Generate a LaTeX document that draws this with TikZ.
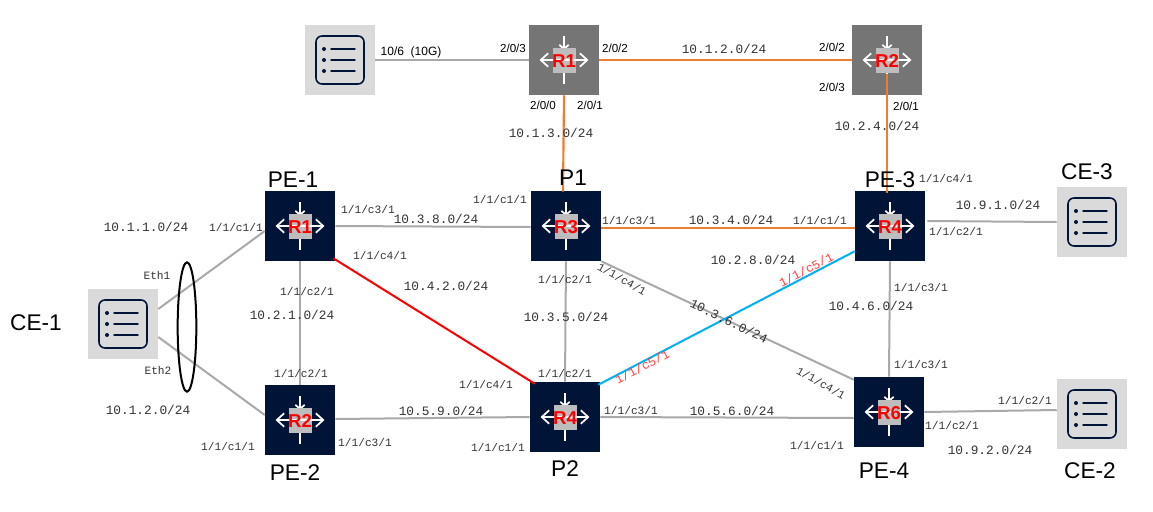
\documentclass[tikz,border=0pt]{standalone}
\usepackage{fontspec}
\setmainfont{Liberation Sans}
\newfontfamily\monof{Liberation Mono}
\usetikzlibrary{calc,arrows.meta,shapes.geometric}
\definecolor{navy}{HTML}{001437}
\definecolor{grayrt}{HTML}{757575}
\definecolor{tilegray}{HTML}{DADADA}
\definecolor{linkgray}{HTML}{A9A9A9}
\definecolor{linkorange}{HTML}{ED7D31}
\definecolor{linkblue}{HTML}{00B0F0}
\definecolor{innergray}{HTML}{BDBDBD}
\definecolor{labgray}{HTML}{333333}
\tikzset{
  x=0.75pt,y=-0.75pt,
  rtbox/.style={minimum size=52.5pt,inner sep=0pt,draw=none},
  srvbox/.style={minimum size=52.5pt,inner sep=0pt,draw=none,fill=tilegray},
  graylink/.style={draw=linkgray,line width=1.5pt},
  orangelink/.style={draw=linkorange,line width=1.6pt},
  redlink/.style={draw=red,line width=1.5pt},
  bluelink/.style={draw=linkblue,line width=1.5pt},
  monolab/.style={inner sep=0pt,font=\monof\fontsize{9.6}{10}\selectfont,text=labgray},
  portlab/.style={inner sep=0pt,font=\monof\fontsize{8.4}{9}\selectfont,text=labgray},
  redport/.style={inner sep=0pt,font=\monof\fontsize{9.3}{10}\selectfont,text=red!75},
  sanslab/.style={inner sep=0pt,font=\fontsize{8.7}{9}\selectfont,text=black},
  biglab/.style={inner sep=0pt,font=\fontsize{17}{18}\selectfont,text=black},
  rlab/.style={inner sep=0pt,font=\bfseries\fontsize{14}{15}\selectfont,text=red},
  iconline/.style={draw=white,line width=1.3pt},
  listline/.style={draw=navy,line width=1.1pt,line cap=round},
}
\newcounter{lblc}
\newcommand{\lbl}[4][]{\stepcounter{lblc}\node[#2,#1] (t\arabic{lblc}) at (#3) {#4};}
\newcommand{\router}[4]{%
  \node[rtbox,fill=#3] (#1) at (#2) {};
  \draw[iconline,-{Straight Barb[length=3pt,width=7pt]}] ($(#1.center)+(0,-24)$) -- ($(#1.center)+(0,-10)$);
  \draw[iconline] ($(#1.center)+(0,24)$) -- ($(#1.center)+(0,10)$);
  \fill[innergray] ($(#1.center)+(-11.5,-12)$) rectangle ($(#1.center)+(11.5,13)$);
  \draw[iconline,{Straight Barb[length=5.5pt,width=10pt]}-{Straight Barb[length=5.5pt,width=10pt]}] ($(#1.center)+(-24.5,0)$) -- ($(#1.center)+(24.5,0)$);
  \node[rlab] (#1txt) at ($(#1.center)+(0,1)$) {#4};
}
\newcommand{\server}[2]{%
  \node[srvbox] (#1) at (#2) {};
  \draw[navy,line width=1.2pt,rounded corners=4.5pt] ($(#1.center)+(-24,-24)$) rectangle ($(#1.center)+(24,24)$);
  \foreach \yy in {-11,0,11}{
    \fill[navy] ($(#1.center)+(-16,\yy)$) circle (1.5pt);
    \draw[listline] ($(#1.center)+(-9,\yy)$) -- ($(#1.center)+(15,\yy)$);
  }
}
\begin{document}
\begin{tikzpicture}
\fill[white] (0,0) rectangle (1153,511);
\useasboundingbox (0,0) rectangle (1153,511);
% devices
\server{srvtop}{340,60}
\server{ceone}{123,324}
\server{cethree}{1092,222}
\server{cetwo}{1092,414}
\router{topa}{564,60}{grayrt}{R1}
\router{topb}{887,60}{grayrt}{R2}
\router{peone}{300,226}{navy}{R1}
\router{pone}{566,226}{navy}{R3}
\router{pethree}{890,226}{navy}{R4}
\router{petwo}{300,420}{navy}{R2}
\router{ptwo}{565,417}{navy}{R4}
\router{pefour}{889,412}{navy}{R6}
% connectors
\draw[graylink] (srvtop.east) -- (topa.west);
\draw[orangelink] (topa.east) -- (topb.west);
\draw[orangelink] (topa.south) -- ($(pone.north)+(-3,1)$);
\draw[orangelink] ($(topb.center)+(0,14)$) -- ($(pethree.north)+(-3,2)$);
\draw[graylink] (peone.east) -- ($(pone.west)+(0,1)$);
\draw[orangelink] ($(pone.east)+(0,2)$) -- ($(pethree.west)+(0,2)$);
\draw[graylink] ($(pethree.east)+(2,-5)$) -- (cethree.west);
\draw[graylink] ($(ceone.east)+(0,-15)$) -- ($(peone.west)+(0,5)$);
\draw[graylink] ($(ceone.east)+(0,13)$) -- ($(petwo.west)+(0,-5)$);
\draw[graylink] (peone.south) -- (petwo.north);
\draw[redlink] ($(peone.south east)+(-2,-3)$) -- ($(ptwo.north west)+(5,2)$);
\draw[graylink] (pone.south) -- (ptwo.north);
\draw[graylink] (pone.south east) -- ($(pefour.north west)+(0,3)$);
\draw[bluelink] ($(ptwo.north east)+(-2,3)$) -- ($(pethree.south west)+(0,-10)$);
\draw[graylink] ($(petwo.east)+(0,-1)$) -- (ptwo.west);
\draw[graylink] (ptwo.east) -- ($(pefour.west)+(0,6)$);
\draw[graylink] (pethree.south) -- (pefour.north);
\draw[graylink] (pefour.east) -- ($(cetwo.west)+(0,-4)$);
\node[draw=black,line width=1.5pt,ellipse,minimum width=14pt,minimum height=97pt,inner sep=0pt] (lag) at (187,327) {};
% big labels
\lbl{biglab}{293,180}{PE-1}
\lbl{biglab}{573,178}{P1}
\lbl{biglab}{890,180}{PE-3}
\lbl{biglab}{1087,172}{CE-3}
\lbl{biglab}{36,323}{CE-1}
\lbl{biglab}{295,473}{PE-2}
\lbl{biglab}{565,469}{P2}
\lbl{biglab}{884,471}{PE-4}
\lbl{biglab}{1090,471}{CE-2}
% sans labels
\node[sanslab,font=\fontsize{9}{10}\selectfont] (uplink) at (411,52) {10/6\ \ (10G)};
\lbl{sanslab}{513,48}{2/0/3}
\lbl{sanslab}{615,48}{2/0/2}
\lbl{sanslab}{832,47}{2/0/2}
\lbl{sanslab}{832,87}{2/0/3}
\lbl{sanslab}{543,105}{2/0/0}
\lbl{sanslab}{590,105}{2/0/1}
\lbl{sanslab}{906,106}{2/0/1}
% subnets
\lbl{monolab}{724,49}{10.1.2.0/24}
\lbl{monolab}{551,133}{10.1.3.0/24}
\lbl{monolab}{877,126}{10.2.4.0/24}
\lbl{monolab}{998,205}{10.9.1.0/24}
\lbl{monolab}{146,227}{10.1.1.0/24}
\lbl{monolab}{436,219}{10.3.8.0/24}
\lbl{monolab}{731,220}{10.3.4.0/24}
\lbl{monolab}{446,286}{10.4.2.0/24}
\lbl{monolab}{292,315}{10.2.1.0/24}
\lbl{monolab}{566,317}{10.3.5.0/24}
\lbl{monolab}{753,260}{10.2.8.0/24}
\lbl{monolab}{871,306}{10.4.6.0/24}
\lbl{monolab}{148,410}{10.1.2.0/24}
\lbl{monolab}{441,411}{10.5.9.0/24}
\lbl{monolab}{732,411}{10.5.6.0/24}
\lbl{monolab}{990,450}{10.9.2.0/24}
\lbl[rotate=-26]{monolab}{729,321}{10.3.6.0/24}
% ports
\lbl{portlab}{946,178}{1/1/c4/1}
\lbl{portlab}{956,231}{1/1/c2/1}
\lbl{portlab}{236,227}{1/1/c1/1}
\lbl{portlab}{368,209}{1/1/c3/1}
\lbl{portlab}{500,199}{1/1/c1/1}
\lbl{portlab}{629,220}{1/1/c3/1}
\lbl{portlab}{820,220}{1/1/c1/1}
\lbl{portlab}{380,255}{1/1/c4/1}
\lbl{portlab}{565,279}{1/1/c2/1}
\lbl{portlab}{307,291}{1/1/c2/1}
\lbl{portlab}{921,287}{1/1/c3/1}
\lbl{portlab}{921,364}{1/1/c3/1}
\lbl{portlab}{565,373}{1/1/c2/1}
\lbl{portlab}{301,373}{1/1/c2/1}
\lbl{portlab}{486,384}{1/1/c4/1}
\lbl{portlab}{228,446}{1/1/c1/1}
\lbl{portlab}{365,442}{1/1/c3/1}
\lbl{portlab}{498,447}{1/1/c1/1}
\lbl{portlab}{631,410}{1/1/c3/1}
\lbl{portlab}{817,445}{1/1/c1/1}
\lbl{portlab}{952,425}{1/1/c2/1}
\lbl{portlab}{1025,400}{1/1/c2/1}
\lbl{portlab}{157,275}{Eth1}
\lbl{portlab}{158,370}{Eth2}
\lbl[rotate=-29]{portlab}{622,279}{1/1/c4/1}
\lbl[rotate=-29]{portlab}{821,383}{1/1/c4/1}
\lbl[rotate=28]{redport}{642,367}{1/1/c5/1}
\lbl[rotate=28]{redport}{806,270}{1/1/c5/1}
\end{tikzpicture}
\end{document}
